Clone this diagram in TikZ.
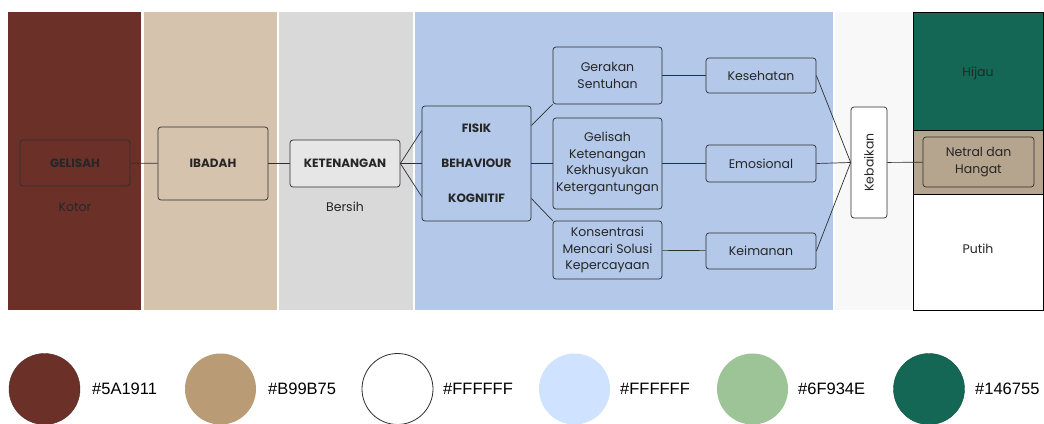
\documentclass[tikz,border=0pt]{standalone}
\usepackage{fontspec}
\setmainfont{Poppins}
\newfontfamily\hexfont{Liberation Sans}

\definecolor{kotorred}{HTML}{6B3129}
\definecolor{ibadahtan}{HTML}{D5C3AD}
\definecolor{bersihgray}{HTML}{D9D9D9}
\definecolor{aspekblue}{HTML}{B4C9EA}
\definecolor{baikwhite}{HTML}{F8F8F8}
\definecolor{hijaugreen}{HTML}{146755}
\definecolor{netraltan}{HTML}{B5A48E}
\definecolor{swatchtan}{HTML}{B99B75}
\definecolor{swatchblue}{HTML}{CFE2FF}
\definecolor{swatchsage}{HTML}{9DC497}
\definecolor{inkgray}{HTML}{2E2E2E}

\tikzset{
  box/.style={draw=inkgray, rounded corners=3pt, line width=0.7pt, inner sep=0pt,
    align=center, text=black!85, font=\fontsize{12.5}{16.8}\selectfont},
  capbox/.style={box, font=\fontsize{12}{13}\selectfont\bfseries},
  link/.style={draw=inkgray, line width=0.7pt},
  swatch/.style={circle, minimum size=71pt, inner sep=0pt},
  hexlabel/.style={anchor=west, inner sep=0pt, font=\hexfont\fontsize{16.5}{18}\selectfont}
}

\begin{document}
\begin{tikzpicture}[x=1pt,y=-1pt]
			%%%%% START %%%%%
			\useasboundingbox (0,0) rectangle (1044,423);
			
			% colour bands
			\fill[kotorred] (8,12) rectangle (141,310);
			\fill[ibadahtan] (144,12) rectangle (277,310);
			\fill[bersihgray] (279,12) rectangle (413,310);
			\fill[aspekblue] (415,12) rectangle (833,310);
			\fill[baikwhite] (835,12) rectangle (912,310);
			
			\draw[fill=hijaugreen, line width=0.6pt] (913,12) rectangle (1043,130);
			\draw[fill=netraltan, line width=0.6pt] (913,130) rectangle (1043,194);
			\draw[fill=white, line width=0.6pt] (913,194) rectangle (1043,310);
			
			% nodes
			\node[capbox, minimum width=110pt, minimum height=46pt] (gelisah) at (75,163) {GELISAH};
			\node[box, draw=none] (kotor) at (75,207) {Kotor};
			
			\node[capbox, minimum width=110pt, minimum height=73pt] (ibadah) at (213,163.5) {IBADAH};
			
			\node[capbox, fill=bersihgray!65!white, minimum width=110pt, minimum height=47pt] (ketenangan) at (345,163.5) {KETENANGAN};
			\node[box, draw=none] (bersih) at (345,207) {Bersih};
			
			\node[capbox, minimum width=109pt, minimum height=115pt, font=\fontsize{12}{35}\selectfont\bfseries] (aspek) at (476.5,163.5) {FISIK\\BEHAVIOUR\\KOGNITIF};
			
			\node[box, minimum width=109pt, minimum height=57pt] (gerakan) at (607.5,75.5) {Gerakan\\Sentuhan};
			\node[box, minimum width=109pt, minimum height=91pt] (perasaan) at (607.5,163.5) {Gelisah\\Ketenangan\\Kekhusyukan\\Ketergantungan};
			\node[box, minimum width=109pt, minimum height=58pt] (konsentrasi) at (607.5,250) {Konsentrasi\\Mencari Solusi\\Kepercayaan};
			
			\node[box, minimum width=110pt, minimum height=35pt] (kesehatan) at (761,75.5) {Kesehatan};
			\node[box, minimum width=110pt, minimum height=37pt] (emosional) at (761,163.5) {Emosional};
			\node[box, minimum width=110pt, minimum height=36pt] (keimanan) at (761,251) {Keimanan};
			
			\node[box, fill=white, minimum width=36pt, minimum height=111pt] (kebaikan) at (869,162.5) {\rotatebox{90}{Kebaikan}};
			
			\node[box, fill=netraltan, minimum width=111pt, minimum height=50pt] (netral) at (978.5,162) {Netral dan\\Hangat};
			\node[box, draw=none] (hijau) at (978,73) {Hijau};
			\node[box, draw=none] (putih) at (978,249) {Putih};
			
			% connectors
			\draw[link] (gelisah) -- (ibadah);
			\draw[link] (ibadah) -- (ketenangan);
			\draw[link] (ketenangan.east) -- ([yshift=33pt]aspek.west);
			\draw[link] (ketenangan.east) -- (aspek.west);
			\draw[link] (ketenangan.east) -- ([yshift=-33pt]aspek.west);
			
			\draw[link] ([yshift=38pt]aspek.east) -- (gerakan.south west);
			\draw[link] (aspek) -- (perasaan);
			\draw[link] ([yshift=-35pt]aspek.east) -- (konsentrasi.north west);
			
			\draw[link] (gerakan) -- (kesehatan);
			\draw[link] (perasaan) -- (emosional);
			\draw[link] (konsentrasi) -- (keimanan);
			
			\draw[link] (kesehatan.east) -- (kebaikan.west);
			\draw[link] (emosional.east) -- (kebaikan.west);
			\draw[link] (keimanan.east) -- (kebaikan.west);
			\draw[link] (kebaikan) -- (netral);
			
			% palette
			\node[swatch, fill=kotorred, draw=kotorred!80!black] (warna1) at (44.5,389) {};
			\node[hexlabel] (kode1) at (92,389) {\#5A1911};
			\node[swatch, fill=swatchtan] (warna2) at (220.5,389) {};
			\node[hexlabel] (kode2) at (268,389) {\#B99B75};
			\node[swatch, fill=white, draw=inkgray, line width=0.8pt] (warna3) at (397.5,389) {};
			\node[hexlabel] (kode3) at (443,389) {\#FFFFFF};
			\node[swatch, fill=swatchblue] (warna4) at (574.5,389) {};
			\node[hexlabel] (kode4) at (620,389) {\#FFFFFF};
			\node[swatch, fill=swatchsage] (warna5) at (752.5,389) {};
			\node[hexlabel] (kode5) at (798,389) {\#6F934E};
			\node[swatch, fill=hijaugreen, draw=hijaugreen!80!black] (warna6) at (929,389) {};
			\node[hexlabel] (kode6) at (975,389) {\#146755};
			
			%%%%% END %%%%%
\end{tikzpicture}
\end{document}
